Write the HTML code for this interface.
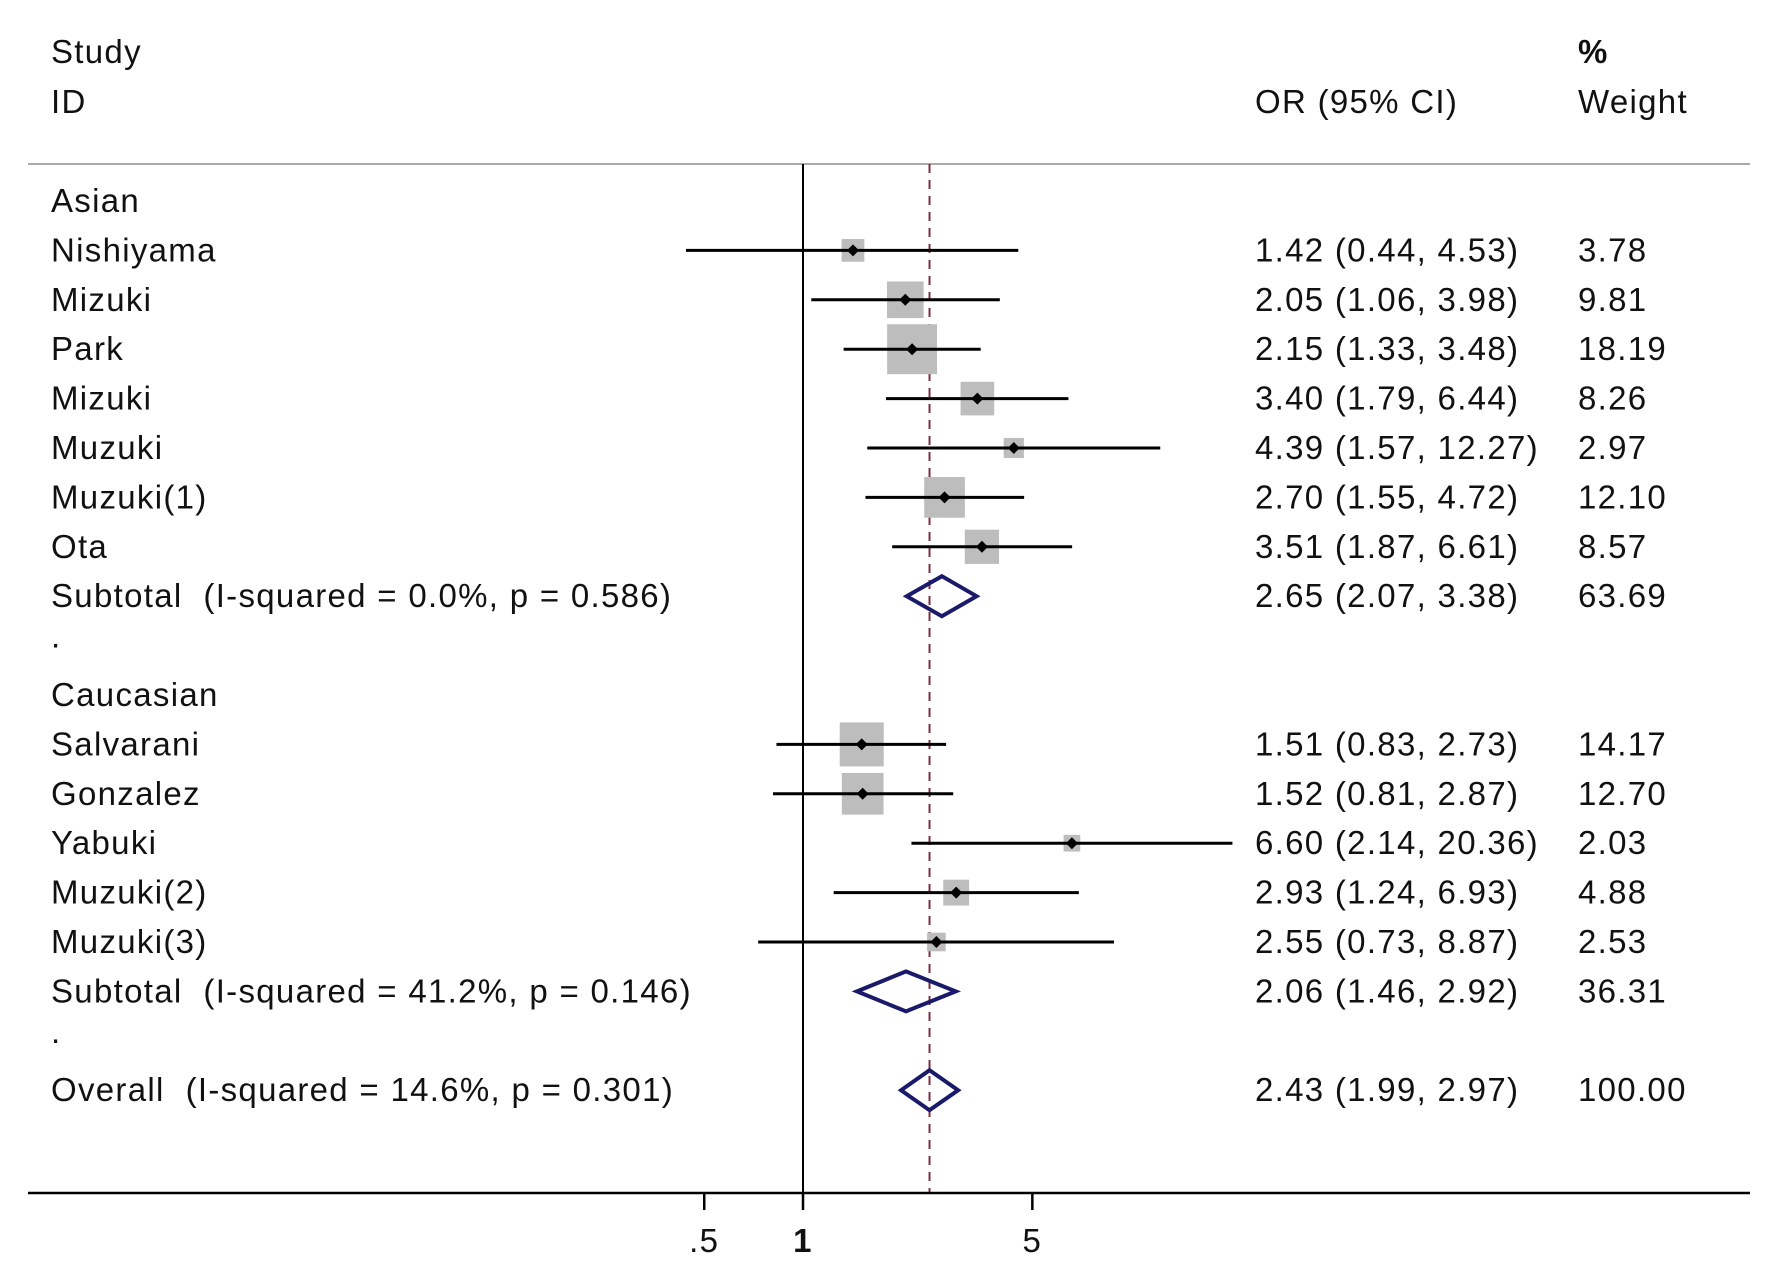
<!DOCTYPE html>
<html><head><meta charset="utf-8"><style>
html,body{margin:0;padding:0;background:#fff;}
svg text{font-family:"Liberation Sans",Arial,sans-serif;font-size:33px;letter-spacing:1.3px;fill:#111;white-space:pre;}
</style></head><body>
<svg id="plot" width="1772" height="1283" viewBox="0 0 1772 1283" xmlns="http://www.w3.org/2000/svg"></svg>
<script>
const labels=["Nishiyama","Mizuki","Park","Mizuki","Muzuki","Muzuki(1)","Ota","Salvarani","Gonzalez","Yabuki","Muzuki(2)","Muzuki(3)"];
const orValues=[1.42,2.05,2.15,3.40,4.39,2.70,3.51,1.51,1.52,6.60,2.93,2.55];
const lowerCI=[0.44,1.06,1.33,1.79,1.57,1.55,1.87,0.83,0.81,2.14,1.24,0.73];
const upperCI=[4.53,3.98,3.48,6.44,12.27,4.72,6.61,2.73,2.87,20.36,6.93,8.87];
const weights=["3.78","9.81","18.19","8.26","2.97","12.10","8.57","14.17","12.70","2.03","4.88","2.53"];
const studyRows=[1,2,3,4,5,6,7,11,12,13,14,15];
const subLabels=["Subtotal  (I-squared = 0.0%, p = 0.586)","Subtotal  (I-squared = 41.2%, p = 0.146)","Overall  (I-squared = 14.6%, p = 0.301)"];
const subOR=[2.65,2.06,2.43];
const subLo=[2.07,1.46,1.99];
const subHi=[3.38,2.92,2.97];
const subW=["63.69","36.31","100.00"];
const subRows=[8,16,18];
const ticks=[0.5,1,5];
const tickLabels=[".5","1","5"];
const overall=2.43;

const svg=document.getElementById('plot');
const NS="http://www.w3.org/2000/svg";
const x=v=>803+142.5*Math.log(v);
const rowY=r=>201+49.4*(r);
function el(t,a,txt){const e=document.createElementNS(NS,t);for(const k in a)e.setAttribute(k,a[k]);if(txt!==undefined)e.textContent=txt;svg.appendChild(e);return e;}
function fmt(v){return v.toFixed(2);}

let e;
e=el('text',{x:51,y:63},'Study');
e=el('text',{x:51,y:113},'ID');
e=el('text',{x:1255,y:113},'OR (95% CI)');
e=el('text',{x:1578,y:63,'font-weight':'bold'},'%');
e=el('text',{x:1578,y:113},'Weight');
e=el('line',{x1:28,x2:1750,y1:164,y2:164,stroke:'#aaa','stroke-width':2});
e=el('line',{x1:x(1),x2:x(1),y1:164,y2:1193,stroke:'#000','stroke-width':2});
e=el('line',{x1:x(overall),x2:x(overall),y1:164,y2:1193,stroke:'#7a3040','stroke-width':2,'stroke-dasharray':'9,7'});
e=el('line',{x1:28,x2:1750,y1:1193,y2:1193,stroke:'#000','stroke-width':2.5});
ticks.forEach((t,i)=>{
  e=el('line',{x1:x(t),x2:x(t),y1:1193,y2:1210,stroke:'#000','stroke-width':2.5});
  
  e=el('text',{x:x(t),y:1252,'text-anchor':'middle','font-weight':t===1?'bold':'normal'},tickLabels[i]);
  
});
e=el('text',{x:51,y:rowY(0)+11},'Asian');
e=el('text',{x:51,y:rowY(10)+11},'Caucasian');
e=el('text',{x:51,y:rowY(9)+2,'font-size':'20'},'.');
e=el('text',{x:51,y:rowY(17)+2,'font-size':'20'},'.');

labels.forEach((lab,i)=>{
  const y=rowY(studyRows[i]);
  const s=11.7*Math.sqrt(parseFloat(weights[i]));
  e=el('rect',{x:x(orValues[i])-s/2,y:y-s/2,width:s,height:s,fill:'#bdbdbd'});
  
  e=el('line',{x1:x(lowerCI[i]),x2:Math.min(x(upperCI[i]),1236),y1:y,y2:y,stroke:'#000','stroke-width':3});
  
  e=el('path',{d:`M${x(orValues[i])-6} ${y}L${x(orValues[i])} ${y-6}L${x(orValues[i])+6} ${y}L${x(orValues[i])} ${y+6}Z`,fill:'#000'});
  
  e=el('text',{x:51,y:y+11},lab);
  e=el('text',{x:1255,y:y+11},`${fmt(orValues[i])} (${fmt(lowerCI[i])}, ${fmt(upperCI[i])})`);
  
  e=el('text',{x:1578,y:y+11},weights[i]);
});
subLabels.forEach((lab,i)=>{
  const y=rowY(subRows[i]);
  e=el('path',{d:`M${x(subLo[i])} ${y}L${x(subOR[i])} ${y-20}L${x(subHi[i])} ${y}L${x(subOR[i])} ${y+20}Z`,fill:'none',stroke:'#1a1a6a','stroke-width':4});
  
  e=el('text',{x:51,y:y+11},lab);
  e=el('text',{x:1255,y:y+11},`${fmt(subOR[i])} (${fmt(subLo[i])}, ${fmt(subHi[i])})`);
  
  e=el('text',{x:1578,y:y+11},subW[i]);
});
</script>
</body></html>
